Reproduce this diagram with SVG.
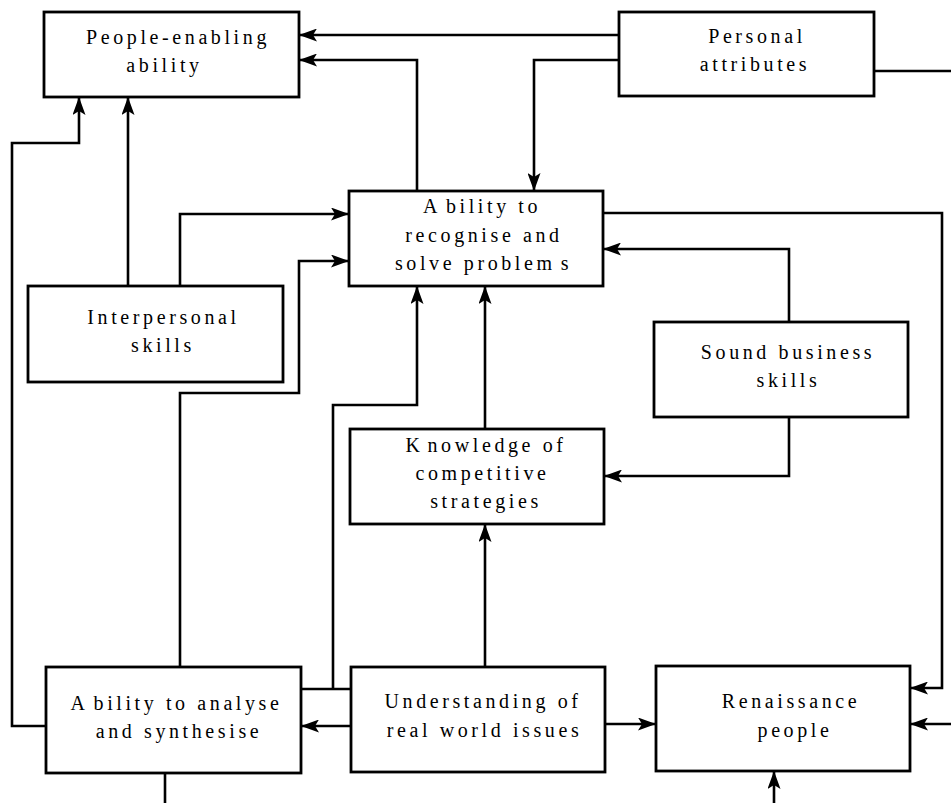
<svg xmlns="http://www.w3.org/2000/svg" width="951" height="803" viewBox="0 0 951 803">
<style>
.box{fill:#fff;stroke:#000;stroke-width:2.8}
.c{fill:none;stroke:#000;stroke-width:2.6}
.t{font-family:"Liberation Serif","Times New Roman",serif;font-size:20px;letter-spacing:3.6px;text-anchor:middle;fill:#000}
</style>
<defs>
<marker id="ah" markerUnits="userSpaceOnUse" viewBox="0 0 18 13" refX="18" refY="6.5" markerWidth="18" markerHeight="13" orient="auto">
<path d="M0,0 L18,6.5 L0,13 L4,6.5 Z" fill="#000"/>
</marker>
</defs>
<rect width="951" height="803" fill="#fff"/>
<g id="connectors">
<path class="c" d="M619,35 L299,35" marker-end="url(#ah)"/>
<path class="c" d="M619,60 L534,60 L534,191" marker-end="url(#ah)"/>
<path class="c" d="M417,191 L417,60 L299,60" marker-end="url(#ah)"/>
<path class="c" d="M874,71 L951,71"/>
<path class="c" d="M46,726 L12,726 L12,143 L79,143 L79,97" marker-end="url(#ah)"/>
<path class="c" d="M128,286 L128,97" marker-end="url(#ah)"/>
<path class="c" d="M180,286 L180,214 L349,214" marker-end="url(#ah)"/>
<path class="c" d="M180,667 L180,393 L299,393 L299,261 L349,261" marker-end="url(#ah)"/>
<path class="c" d="M301,689 L351,689"/>
<path class="c" d="M333,689 L333,405 L417,405 L417,286" marker-end="url(#ah)"/>
<path class="c" d="M485,429 L485,286" marker-end="url(#ah)"/>
<path class="c" d="M485,667 L485,524" marker-end="url(#ah)"/>
<path class="c" d="M789,322 L789,249 L603,249" marker-end="url(#ah)"/>
<path class="c" d="M789,417 L789,476 L604,476" marker-end="url(#ah)"/>
<path class="c" d="M603,213 L942,213 L942,688 L910,688" marker-end="url(#ah)"/>
<path class="c" d="M951,724 L910,724" marker-end="url(#ah)"/>
<path class="c" d="M605,724 L656,724" marker-end="url(#ah)"/>
<path class="c" d="M351,726 L301,726" marker-end="url(#ah)"/>
<path class="c" d="M165,773 L165,803"/>
<path class="c" d="M774,803 L774,771" marker-end="url(#ah)"/>
</g>
<g id="people-enabling">
<rect class="box" x="44" y="12" width="255" height="85"/>
<text class="t" x="178" y="44">People-enabling</text>
<text class="t" x="164.5" y="72">ability</text>
</g>
<g id="personal-attributes">
<rect class="box" x="619" y="12" width="255" height="84"/>
<text class="t" x="757" y="43">Personal</text>
<text class="t" x="755" y="71">attributes</text>
</g>
<g id="ability-recognise">
<rect class="box" x="349" y="191" width="254" height="95"/>
<text class="t" x="482" y="213">A<tspan dx="5">bility to</tspan></text>
<text class="t" x="484" y="242">recognise and</text>
<text class="t" x="483.5" y="270">solve problem<tspan dx="5">s</tspan></text>
</g>
<g id="interpersonal">
<rect class="box" x="28" y="286" width="255" height="96"/>
<text class="t" x="163.5" y="324">Interpersonal</text>
<text class="t" x="163" y="352">skills</text>
</g>
<g id="sound-business">
<rect class="box" x="654" y="322" width="254" height="95"/>
<text class="t" x="788" y="359">Sound business</text>
<text class="t" x="788.5" y="387">skills</text>
</g>
<g id="knowledge">
<rect class="box" x="350" y="429" width="254" height="95"/>
<text class="t" x="486" y="452">K<tspan dx="4">nowledge of</tspan></text>
<text class="t" x="482.5" y="480">competitive</text>
<text class="t" x="486" y="508">strategies</text>
</g>
<g id="ability-analyse">
<rect class="box" x="46" y="667" width="255" height="106"/>
<text class="t" x="176.5" y="710">A<tspan dx="5">bility to analyse</tspan></text>
<text class="t" x="179" y="738">and synthesise</text>
</g>
<g id="understanding">
<rect class="box" x="351" y="667" width="254" height="105"/>
<text class="t" x="483" y="708">Understanding of</text>
<text class="t" x="484.5" y="737">real world issues</text>
</g>
<g id="renaissance">
<rect class="box" x="656" y="666" width="254" height="105"/>
<text class="t" x="791" y="708">Renaissance</text>
<text class="t" x="795" y="737">people</text>
</g>
</svg>
